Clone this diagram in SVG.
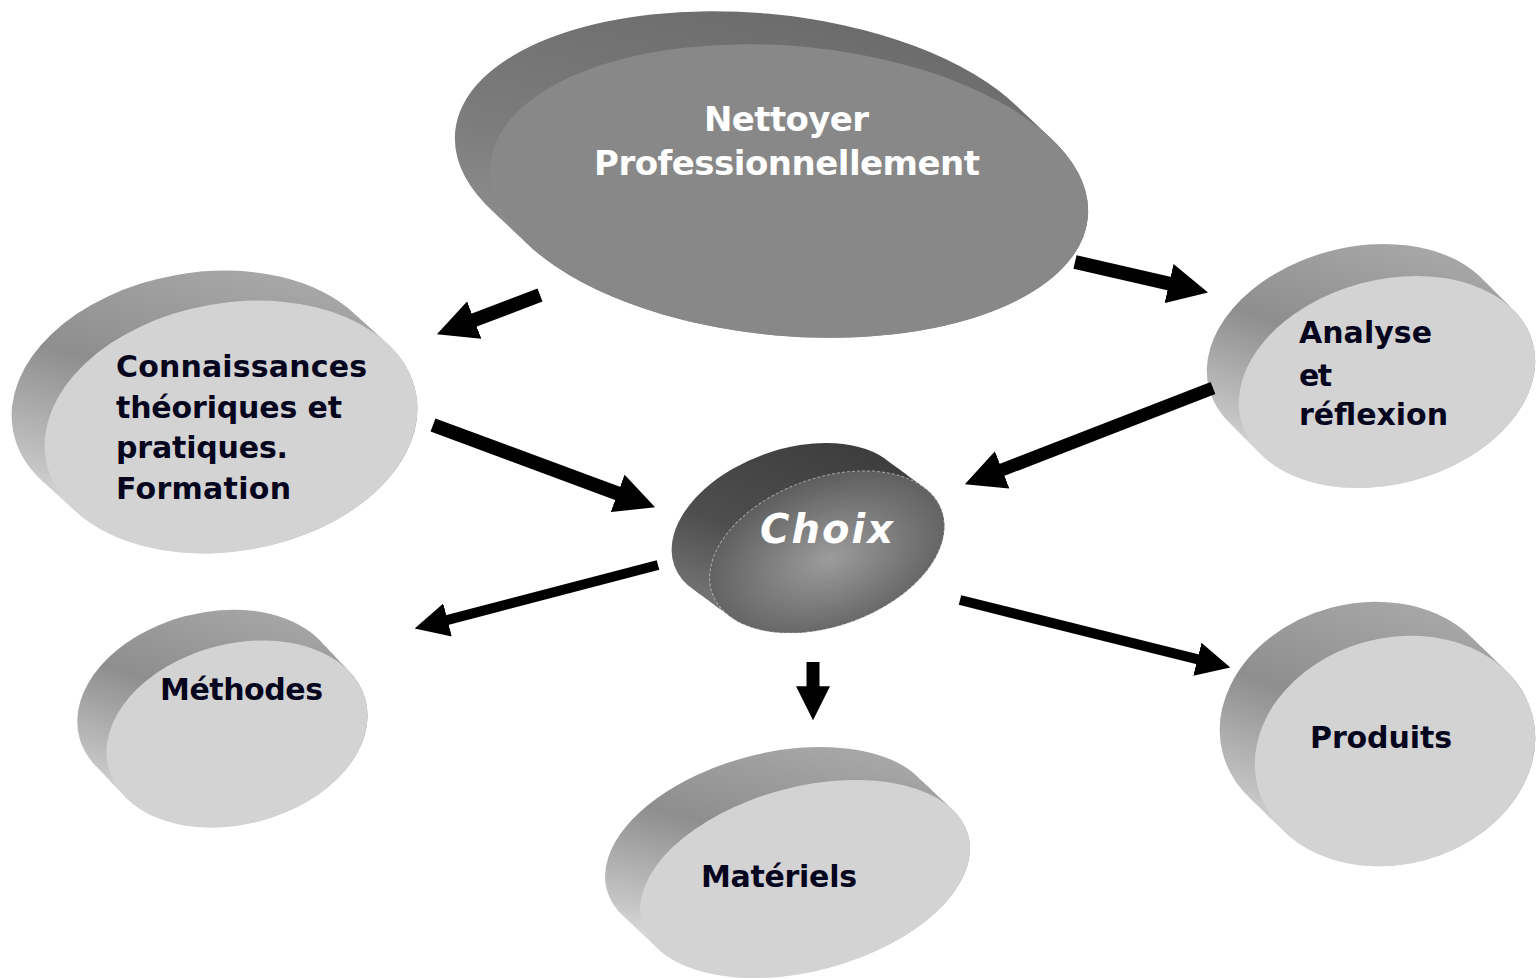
<svg xmlns="http://www.w3.org/2000/svg" xmlns:xlink="http://www.w3.org/1999/xlink" width="1536" height="979" viewBox="0 0 1536 979">
<style>
.face{fill:#d3d3d3}
.lbl{font-family:"DejaVu Sans",Verdana,sans-serif;font-weight:bold;font-size:30px;fill:#05051e}
.wlbl{font-family:"DejaVu Sans",Verdana,sans-serif;font-weight:bold;fill:#ffffff}
.arr{stroke:#000;fill:none}
</style>
<defs>
<linearGradient id="sideL" x1="0.55" y1="0" x2="0.15" y2="1">
<stop offset="0" stop-color="#a8a8a8"/>
<stop offset="0.4" stop-color="#8e8e8e"/>
<stop offset="0.75" stop-color="#c4c4c4"/>
<stop offset="1" stop-color="#f6f6f6"/>
</linearGradient>
<linearGradient id="sideD" x1="0.6" y1="0" x2="0.1" y2="1">
<stop offset="0" stop-color="#6a6a6a"/>
<stop offset="0.5" stop-color="#7c7c7c"/>
<stop offset="1" stop-color="#a2a2a2"/>
</linearGradient>
<linearGradient id="sideC" x1="0.6" y1="0" x2="0.1" y2="1">
<stop offset="0" stop-color="#3c3c3c"/>
<stop offset="0.5" stop-color="#4e4e4e"/>
<stop offset="1" stop-color="#8a8a8a"/>
</linearGradient>
<radialGradient id="faceC" cx="0.5" cy="0.55" r="0.6">
<stop offset="0" stop-color="#9c9c9c"/>
<stop offset="1" stop-color="#585858"/>
</radialGradient>
<marker id="ahL" viewBox="0 0 10 10" refX="0.5" refY="5" markerWidth="40" markerHeight="40" markerUnits="userSpaceOnUse" orient="auto">
<path d="M0,0 L10,5 L0,10 z" fill="#000"/>
</marker>
<marker id="ahS" viewBox="0 0 10 10" refX="0.5" refY="5" markerWidth="34" markerHeight="34" markerUnits="userSpaceOnUse" orient="auto">
<path d="M0,0 L10,5 L0,10 z" fill="#000"/>
</marker>
<ellipse id="e1" cx="789" cy="191" rx="300" ry="145" transform="rotate(5 789 191)"/>
<ellipse id="e2" cx="231" cy="427" rx="188" ry="124" transform="rotate(-10 231 427)"/>
<ellipse id="e3" cx="827" cy="552" rx="122" ry="74" transform="rotate(-20 827 552)"/>
<ellipse id="e4" cx="1387" cy="382" rx="151" ry="102" transform="rotate(-15 1387 382)"/>
<ellipse id="e5" cx="237" cy="734" rx="133" ry="90" transform="rotate(-15 237 734)"/>
<ellipse id="e6" cx="805" cy="879" rx="169" ry="92" transform="rotate(-15 805 879)"/>
<ellipse id="e7" cx="1395" cy="751" rx="142" ry="113" transform="rotate(-15 1395 751)"/>
<clipPath id="c1">
<use xlink:href="#e1"/><use xlink:href="#e1" transform="translate(-5.8,-5.5)"/><use xlink:href="#e1" transform="translate(-11.7,-11)"/><use xlink:href="#e1" transform="translate(-17.5,-16.5)"/><use xlink:href="#e1" transform="translate(-23.3,-22)"/><use xlink:href="#e1" transform="translate(-29.2,-27.5)"/><use xlink:href="#e1" transform="translate(-35,-33)"/>
</clipPath>
<clipPath id="c2">
<use xlink:href="#e2"/><use xlink:href="#e2" transform="translate(-5.5,-5)"/><use xlink:href="#e2" transform="translate(-11,-10)"/><use xlink:href="#e2" transform="translate(-16.5,-15)"/><use xlink:href="#e2" transform="translate(-22,-20)"/><use xlink:href="#e2" transform="translate(-27.5,-25)"/><use xlink:href="#e2" transform="translate(-33,-30)"/>
</clipPath>
<clipPath id="c3">
<use xlink:href="#e3"/><use xlink:href="#e3" transform="translate(-6.3,-4.7)"/><use xlink:href="#e3" transform="translate(-12.7,-9.3)"/><use xlink:href="#e3" transform="translate(-19,-14)"/><use xlink:href="#e3" transform="translate(-25.3,-18.7)"/><use xlink:href="#e3" transform="translate(-31.7,-23.3)"/><use xlink:href="#e3" transform="translate(-38,-28)"/>
</clipPath>
<clipPath id="c4">
<use xlink:href="#e4"/><use xlink:href="#e4" transform="translate(-5.3,-5.3)"/><use xlink:href="#e4" transform="translate(-10.7,-10.7)"/><use xlink:href="#e4" transform="translate(-16,-16)"/><use xlink:href="#e4" transform="translate(-21.3,-21.3)"/><use xlink:href="#e4" transform="translate(-26.7,-26.7)"/><use xlink:href="#e4" transform="translate(-32,-32)"/>
</clipPath>
<clipPath id="c5">
<use xlink:href="#e5"/><use xlink:href="#e5" transform="translate(-5.8,-6.2)"/><use xlink:href="#e5" transform="translate(-11.7,-12.3)"/><use xlink:href="#e5" transform="translate(-17.5,-18.5)"/><use xlink:href="#e5" transform="translate(-23.3,-24.7)"/><use xlink:href="#e5" transform="translate(-29.2,-30.8)"/><use xlink:href="#e5" transform="translate(-35,-37)"/>
</clipPath>
<clipPath id="c6">
<use xlink:href="#e6"/><use xlink:href="#e6" transform="translate(-5.8,-5.5)"/><use xlink:href="#e6" transform="translate(-11.7,-11)"/><use xlink:href="#e6" transform="translate(-17.5,-16.5)"/><use xlink:href="#e6" transform="translate(-23.3,-22)"/><use xlink:href="#e6" transform="translate(-29.2,-27.5)"/><use xlink:href="#e6" transform="translate(-35,-33)"/>
</clipPath>
<clipPath id="c7">
<use xlink:href="#e7"/><use xlink:href="#e7" transform="translate(-5.8,-5.7)"/><use xlink:href="#e7" transform="translate(-11.7,-11.3)"/><use xlink:href="#e7" transform="translate(-17.5,-17)"/><use xlink:href="#e7" transform="translate(-23.3,-22.7)"/><use xlink:href="#e7" transform="translate(-29.2,-28.3)"/><use xlink:href="#e7" transform="translate(-35,-34)"/>
</clipPath>
</defs>
<rect width="1536" height="979" fill="#ffffff"/>

<g id="node-nettoyer">
<rect x="440" y="0" width="660" height="350" fill="url(#sideD)" clip-path="url(#c1)"/>
<use xlink:href="#e1" fill="#888888"/>
<text class="wlbl" font-size="34" x="704" y="131" textLength="165">Nettoyer</text>
<text class="wlbl" font-size="34" x="594" y="175" textLength="386">Professionnellement</text>
</g>

<g id="node-connaissances">
<rect x="0" y="260" width="430" height="300" fill="url(#sideL)" clip-path="url(#c2)"/>
<use xlink:href="#e2" class="face"/>
<text class="lbl" x="116" y="377" textLength="251">Connaissances</text>
<text class="lbl" x="116" y="418" textLength="226">théoriques et</text>
<text class="lbl" x="116" y="458" textLength="172">pratiques.</text>
<text class="lbl" x="116" y="499" textLength="175">Formation</text>
</g>

<g id="node-choix">
<rect x="660" y="430" width="300" height="215" fill="url(#sideC)" clip-path="url(#c3)"/>
<use xlink:href="#e3" fill="url(#faceC)" stroke="#dddddd" stroke-width="1" stroke-dasharray="3 2" stroke-opacity="0.6"/>
<text class="wlbl" font-size="40" font-style="italic" x="760" y="543" textLength="133">Choix</text>
</g>

<g id="node-analyse">
<rect x="1195" y="230" width="341" height="270" fill="url(#sideL)" clip-path="url(#c4)"/>
<use xlink:href="#e4" class="face"/>
<text class="lbl" x="1299" y="343" textLength="133">Analyse</text>
<text class="lbl" x="1299" y="386" textLength="33">et</text>
<text class="lbl" x="1299" y="425" textLength="149">réflexion</text>
</g>

<g id="node-methodes">
<rect x="60" y="590" width="320" height="250" fill="url(#sideL)" clip-path="url(#c5)"/>
<use xlink:href="#e5" class="face"/>
<text class="lbl" x="160" y="700" textLength="163">Méthodes</text>
</g>

<g id="node-materiels">
<rect x="595" y="735" width="390" height="244" fill="url(#sideL)" clip-path="url(#c6)"/>
<use xlink:href="#e6" class="face"/>
<text class="lbl" x="701" y="887" textLength="156">Matériels</text>
</g>

<g id="node-produits">
<rect x="1205" y="590" width="331" height="290" fill="url(#sideL)" clip-path="url(#c7)"/>
<use xlink:href="#e7" class="face"/>
<text class="lbl" x="1310" y="748" textLength="142">Produits</text>
</g>

<g id="connectors">
<line class="arr" x1="540" y1="295" x2="472.4" y2="320.8" stroke-width="14" marker-end="url(#ahL)"/>
<line class="arr" x1="1075" y1="262" x2="1171" y2="284" stroke-width="14" marker-end="url(#ahL)"/>
<line class="arr" x1="433" y1="425" x2="619.5" y2="494.1" stroke-width="14" marker-end="url(#ahL)"/>
<line class="arr" x1="1213" y1="388" x2="1000.3" y2="470.5" stroke-width="13" marker-end="url(#ahL)"/>
<line class="arr" x1="658" y1="565" x2="445.9" y2="620.4" stroke-width="10" marker-end="url(#ahS)"/>
<line class="arr" x1="813" y1="662" x2="813" y2="688" stroke-width="13" marker-end="url(#ahS)"/>
<line class="arr" x1="960" y1="600" x2="1199" y2="659.7" stroke-width="10" marker-end="url(#ahS)"/>
</g>
</svg>
